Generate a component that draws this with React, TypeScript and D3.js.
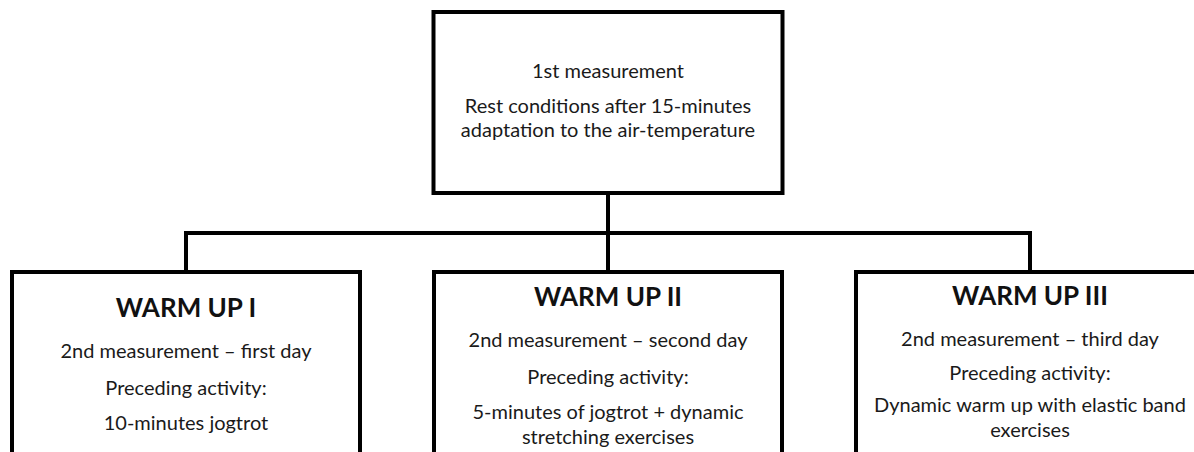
import React from 'react';
import * as d3 from 'd3';

// diagram content
const topLines = ['1st measurement', 'Rest conditions after 15-minutes', 'adaptation to the air-temperature'];
const boxTitles = ['WARM UP I', 'WARM UP II', 'WARM UP III'];
const measurementLines = ['2nd measurement – first day', '2nd measurement – second day', '2nd measurement – third day'];
const activityLabel = 'Preceding activity:';
const activityLines = [
  ['10-minutes jogtrot'],
  ['5-minutes of jogtrot + dynamic', 'stretching exercises'],
  ['Dynamic warm up with elastic band', 'exercises'],
];

const width = 1194;
const height = 452;
const font = 'Lato, "Open Sans", sans-serif';
const stroke = '#000';
const sw = 4;

const App: React.FC = () => {
  // box centres along x
  const x = d3.scalePoint<string>().domain(boxTitles).range([186, 1030]);
  const boxW = 348;
  const topX = x(boxTitles[1]) as number;
  const top = { y0: 12, y1: 193 };
  const busY = 233;
  const boxTop = 272;
  // left box text sits slightly lower than the others
  const titleY = [317, 306, 305];
  const rowGap = [37, 37, 34];

  const bus = d3.line()([
    [x(boxTitles[0]) as number, boxTop],
    [x(boxTitles[0]) as number, busY],
    [x(boxTitles[2]) as number, busY],
    [x(boxTitles[2]) as number, boxTop],
  ]);

  return (
    <svg width={width} height={height} style={{ position: 'absolute', left: 0, top: 0, background: '#fff' }}>
      <rect x={topX - 174.5} y={top.y0} width={349} height={top.y1 - top.y0} fill="#fff" stroke={stroke} strokeWidth={sw} />
      {topLines.map((t, i) => (
        <text key={t} x={topX} y={[78, 113, 137][i]} textAnchor="middle" fontFamily={font} fontSize={20} fill="#1a1a1a">
          {t}
        </text>
      ))}
      <line x1={topX} x2={topX} y1={top.y1} y2={boxTop} stroke={stroke} strokeWidth={sw} />
      <path d={bus ?? ''} fill="none" stroke={stroke} strokeWidth={sw} />
      {boxTitles.map((title, i) => {
        const cx = x(title) as number;
        const ty = titleY[i];
        const m = ty + 41;
        const p = m + rowGap[i];
        const a = p + rowGap[i] - 2;
        return (
          <g key={title}>
            <rect x={cx - boxW / 2} y={boxTop} width={boxW} height={height} fill="#fff" stroke={stroke} strokeWidth={sw} />
            <text x={cx} y={ty} textAnchor="middle" fontFamily={font} fontSize={26} fontWeight="bold" fill="#111">
              {title}
            </text>
            <text x={cx} y={m} textAnchor="middle" fontFamily={font} fontSize={20} fill="#1a1a1a">
              {measurementLines[i]}
            </text>
            <text x={cx} y={p} textAnchor="middle" fontFamily={font} fontSize={20} fill="#1a1a1a">
              {activityLabel}
            </text>
            {activityLines[i].map((t, j) => (
              <text key={t} x={cx} y={a + j * 25} textAnchor="middle" fontFamily={font} fontSize={20} fill="#1a1a1a">
                {t}
              </text>
            ))}
          </g>
        );
      })}
    </svg>
  );
};

export default App;
